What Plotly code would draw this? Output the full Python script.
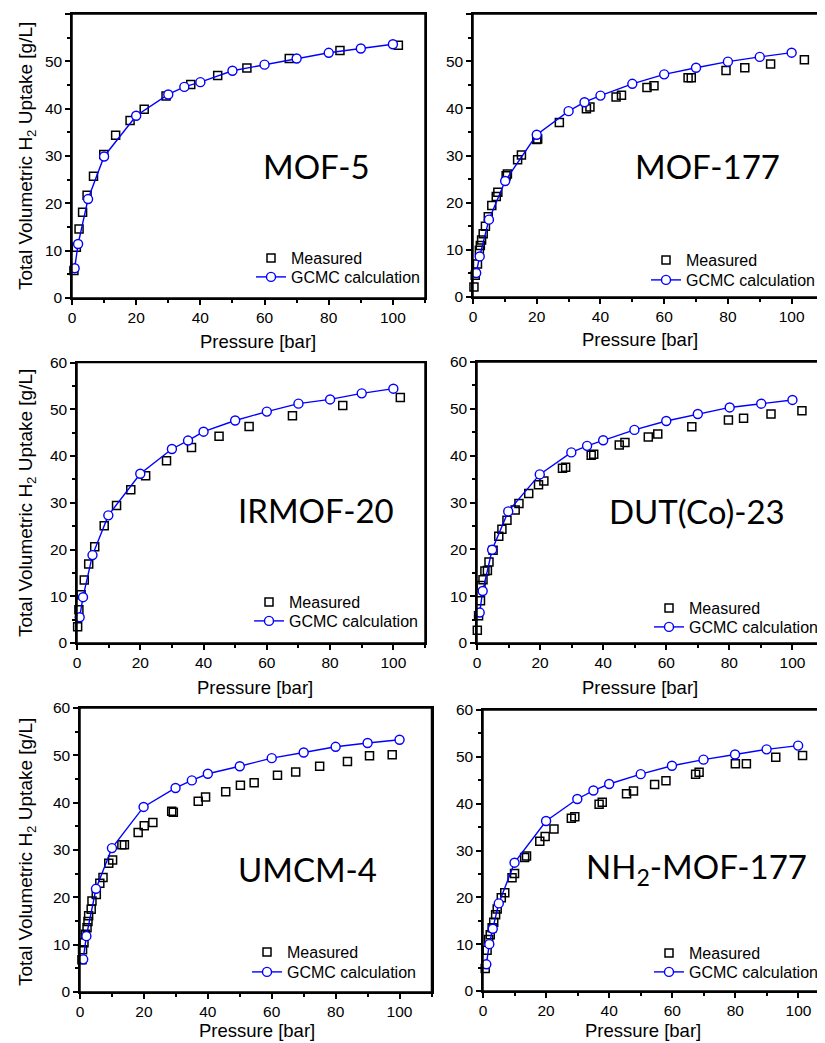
import plotly.graph_objects as go

W, H = 825, 1043
OFF = 8  # page body margin of the browser (content is shifted by this many pixels)

# ---------------- data ----------------
names = ["MOF-5", "MOF-177", "IRMOF-20", "DUT(Co)-23", "UMCM-4", "NH<sub>2</sub>-MOF-177"]

mof5_meas_p = [0.6, 1.35, 2.2, 3.3, 4.7, 6.7, 9.9, 13.6, 18.1, 22.5, 29.3, 37.0, 45.4, 54.5, 67.7, 83.5, 101.7]
mof5_meas_v = [5.8, 10.7, 14.6, 18.1, 21.7, 25.7, 30.3, 34.4, 37.5, 39.9, 42.7, 45.1, 47.0, 48.6, 50.6, 52.3, 53.4]
mof5_gcmc_p = [0.83, 1.9, 5, 10, 20, 30, 35, 40, 50, 60, 70, 80, 90, 100]
mof5_gcmc_v = [6.3, 11.4, 20.9, 29.9, 38.5, 43.0, 44.6, 45.6, 48.0, 49.3, 50.6, 51.8, 52.7, 53.6]

mof177_meas_p = [0.3, 0.7, 1.4, 2.0, 2.3, 2.7, 3.2, 3.9, 4.8, 5.9, 7.3, 7.8, 10.4, 10.8, 14.0, 15.2,
                 20.0, 20.3, 27.1, 35.6, 36.7, 44.9, 46.6, 54.6, 56.8, 67.5, 68.5, 79.4, 85.3, 93.4, 104.0]
mof177_meas_v = [2.1, 4.6, 7.0, 9.9, 10.9, 12.1, 13.4, 15.0, 17.0, 19.4, 21.3, 22.2, 25.7, 26.1, 29.1, 30.1,
                 33.4, 33.5, 37.0, 39.9, 40.3, 42.4, 42.8, 44.4, 44.8, 46.5, 46.5, 48.0, 48.6, 49.4, 50.3]
mof177_gcmc_p = [1.0, 2.1, 5.0, 10.1, 20, 30, 35, 40, 50, 60, 70, 80, 90, 100]
mof177_gcmc_v = [5.1, 8.6, 16.4, 24.6, 34.4, 39.4, 41.3, 42.7, 45.2, 47.2, 48.6, 49.9, 50.9, 51.8]

irmof20_meas_p = [0.2, 0.6, 1.3, 2.3, 3.7, 5.6, 8.6, 12.5, 17.0, 21.7, 28.3, 36.2, 44.9, 54.4, 68.1, 84.0, 102.2]
irmof20_meas_v = [3.5, 7.1, 10.3, 13.5, 16.9, 20.6, 25.1, 29.4, 32.8, 35.8, 39.0, 41.8, 44.2, 46.3, 48.6, 50.8, 52.5]
irmof20_gcmc_p = [0.84, 1.9, 4.9, 9.9, 20, 30, 35.1, 40, 50, 60, 70, 80, 90, 100]
irmof20_gcmc_v = [5.5, 9.8, 18.8, 27.3, 36.2, 41.5, 43.3, 45.2, 47.6, 49.5, 51.2, 52.1, 53.4, 54.4]

dut_meas_p = [0.1, 0.5, 1.1, 1.27, 1.9, 2.5, 3.3, 3.8, 5.1, 6.9, 7.9, 9.5, 12.1, 13.3, 16.4, 19.5, 21.2,
              27.1, 28.1, 36.2, 37.0, 45.1, 46.9, 54.3, 57.3, 68.1, 79.7, 84.5, 93.2, 103.0]
dut_meas_v = [2.7, 5.8, 9.0, 12.3, 13.5, 15.4, 15.5, 17.3, 19.8, 22.8, 24.3, 26.2, 28.4, 29.8, 31.9, 33.8, 34.6,
              37.3, 37.5, 40.1, 40.3, 42.3, 42.8, 44.0, 44.6, 46.2, 47.6, 48.0, 48.9, 49.6]
dut_gcmc_p = [0.85, 1.8, 4.8, 9.9, 19.9, 29.9, 34.9, 40, 49.9, 60, 70, 80.1, 90.1, 100]
dut_gcmc_v = [6.5, 11.1, 19.9, 28.1, 36.0, 40.7, 42.1, 43.3, 45.5, 47.4, 48.9, 50.3, 51.1, 51.9]

umcm_meas_p = [0.6, 0.8, 1.25, 1.7, 2.2, 2.5, 2.7, 3.5, 3.75, 5.1, 6.2, 7.2, 9.0, 10.2, 13.1, 13.9, 18.2, 20.1,
               22.8, 28.7, 29.2, 37.0, 39.3, 45.6, 50.2, 54.5, 61.8, 67.5, 75.0, 83.7, 90.6, 97.7]
umcm_meas_v = [6.8, 8.9, 10.4, 12.2, 13.6, 14.9, 16.1, 17.5, 19.2, 20.6, 23.0, 24.2, 27.2, 27.9, 31.1, 31.1, 33.7, 35.1,
               35.8, 38.2, 38.0, 40.3, 41.2, 42.3, 43.7, 44.2, 45.8, 46.5, 47.7, 48.7, 49.9, 50.1]
umcm_gcmc_p = [1.0, 2.0, 5.0, 10, 19.9, 29.9, 35, 40, 50, 60, 70, 80, 90, 100]
umcm_gcmc_v = [6.9, 11.8, 21.8, 30.4, 39.1, 43.1, 44.7, 46.1, 47.7, 49.4, 50.6, 51.8, 52.6, 53.3]

nh2_meas_p = [0.7, 1.3, 1.8, 2.3, 2.9, 3.4, 4.0, 4.5, 5.8, 6.9, 9.2, 10.0, 13.2, 13.8, 18.0, 19.7, 22.5,
              28.0, 29.1, 36.8, 37.8, 45.5, 47.7, 54.4, 58.0, 67.4, 68.5, 80.0, 83.5, 92.8, 101.3]
nh2_meas_v = [4.8, 8.7, 11.0, 12.0, 13.5, 14.7, 16.3, 17.5, 19.9, 21.0, 24.2, 25.1, 28.5, 28.8, 32.0, 33.0, 34.6,
              36.9, 37.2, 39.9, 40.3, 42.1, 42.7, 44.1, 44.9, 46.3, 46.7, 48.5, 48.5, 49.9, 50.3]
nh2_gcmc_p = [1.06, 2.0, 3.1, 5.0, 10, 20, 29.9, 35, 40, 50, 59.9, 69.9, 79.9, 89.9, 99.9]
nh2_gcmc_v = [5.7, 10.0, 13.3, 18.7, 27.4, 36.3, 41.0, 42.8, 44.2, 46.3, 48.1, 49.4, 50.5, 51.6, 52.4]

measured = [(mof5_meas_p, mof5_meas_v), (mof177_meas_p, mof177_meas_v), (irmof20_meas_p, irmof20_meas_v),
            (dut_meas_p, dut_meas_v), (umcm_meas_p, umcm_meas_v), (nh2_meas_p, nh2_meas_v)]
gcmc = [(mof5_gcmc_p, mof5_gcmc_v), (mof177_gcmc_p, mof177_gcmc_v), (irmof20_gcmc_p, irmof20_gcmc_v),
        (dut_gcmc_p, dut_gcmc_v), (umcm_gcmc_p, umcm_gcmc_v), (nh2_gcmc_p, nh2_gcmc_v)]

x_title = "Pressure [bar]"
y_title = "Total Volumetric H<sub>2</sub> Uptake [g/L]"
leg_meas = "Measured"
leg_gcmc = "GCMC calculation"

# ---------------- layout (screen pixels) ----------------
# left, right, top, bottom of each plot area
boxes = [(72, 425, 14, 298), (473, 823.5, 14, 297),
         (77, 425, 362.5, 643), (477, 824, 362, 643),
         (80, 431.5, 708, 992), (483, 830, 710, 991)]
xmax = [110, 110, 110, 110, 110, 110]
label_pos = [(316, 166), (707, 166), (316, 510), (697, 511), (307, 869), (696, 868)]
# (text start x, row1 centre y, row2 centre y)
leg_pos = [(291, 258, 277), (686, 260, 280), (289, 602, 621), (689, 608, 627), (287, 952, 972), (689, 953, 972)]
xt_pos = [(258, 342), (640, 339), (255, 687), (640, 687), (257, 1030), (643, 1030)]

FONT = "Arial"
AX_FONT = dict(family=FONT, size=15.5, color="black")
LINE = "black"
LW = 1.5

fig = go.Figure()
annotations = []
shapes = []

def px(x):
    return (x - OFF) / W

def py(y):
    return 1 - (y - OFF) / H

for i in range(6):
    n = i + 1
    sx = "" if n == 1 else str(n)
    l, r, t, b = boxes[i]
    leg_a = "legend" if i == 0 else f"legend{2 * i + 1}"
    leg_b = f"legend{2 * i + 2}"
    mp, mv = measured[i]
    gp, gv = gcmc[i]
    fig.add_trace(go.Scatter(
        x=mp, y=mv, mode="markers", name=leg_meas, legend=leg_a,
        xaxis=f"x{sx}", yaxis=f"y{sx}", cliponaxis=False,
        marker=dict(symbol="square", size=8, color="rgba(255,255,255,0)",
                    line=dict(color="black", width=1.5))))
    fig.add_trace(go.Scatter(
        x=gp, y=gv, mode="lines+markers", name=leg_gcmc, legend=leg_b,
        xaxis=f"x{sx}", yaxis=f"y{sx}", cliponaxis=False,
        line=dict(color="#0000ff", width=1.4),
        marker=dict(symbol="circle", size=9, color="white",
                    line=dict(color="#0000ff", width=1.4))))

    dom_x = [px(l), min(px(r), 1.0)]
    dom_y = [py(b), py(t)]
    fig.update_layout({
        f"xaxis{sx}": dict(range=[0, xmax[i]], domain=dom_x, anchor=f"y{sx}", showgrid=False, zeroline=False,
                           showline=True, mirror=True, linecolor=LINE, linewidth=LW,
                           ticks="outside", ticklen=5, tickcolor=LINE, tickwidth=LW,
                           dtick=20, tick0=0, tickfont=AX_FONT, fixedrange=True,
                           minor=dict(dtick=10, ticks="outside", ticklen=3, tickcolor=LINE, tickwidth=LW)),
        f"yaxis{sx}": dict(range=[0, 60], domain=dom_y, anchor=f"x{sx}", showgrid=False, zeroline=False,
                           showline=True, mirror=True, linecolor=LINE, linewidth=LW,
                           ticks="outside", ticklen=5, tickcolor=LINE, tickwidth=LW,
                           dtick=10, tick0=0, tickfont=AX_FONT, fixedrange=True,
                           minor=dict(dtick=5, ticks="outside", ticklen=3, tickcolor=LINE, tickwidth=LW)),
    })
    # plot-area frame in paper units (not clipped)
    shapes.append(dict(type="rect", xref="paper", yref="paper",
                       x0=dom_x[0], x1=dom_x[1], y0=dom_y[0], y1=dom_y[1],
                       line=dict(color=LINE, width=LW), fillcolor="rgba(0,0,0,0)", layer="above"))

    lx, ly1, ly2 = leg_pos[i]
    for leg, ly in ((leg_a, ly1), (leg_b, ly2)):
        fig.update_layout({leg: dict(x=px(lx - 40), y=py(ly), xanchor="left", yanchor="middle",
                                     bgcolor="rgba(0,0,0,0)", borderwidth=0,
                                     font=dict(family=FONT, size=16, color="black"), itemwidth=30)})

    cx, cy = label_pos[i]
    annotations.append(dict(text=names[i], x=px(cx), y=py(cy), xref="paper", yref="paper",
                            showarrow=False, xanchor="center", yanchor="middle",
                            font=dict(family="Lato, Noto Sans", size=33, color="black")))
    tx, ty = xt_pos[i]
    annotations.append(dict(text=x_title, x=px(tx), y=py(ty), xref="paper", yref="paper",
                            showarrow=False, xanchor="center", yanchor="middle",
                            font=dict(family=FONT, size=18.5, color="black")))

for yc in [156, 503, 852]:
    annotations.append(dict(text=y_title, x=px(27), y=py(yc), xref="paper", yref="paper",
                            showarrow=False, xanchor="center", yanchor="middle", textangle=-90,
                            font=dict(family=FONT, size=19, color="black")))

fig.update_layout(width=W, height=H, margin=dict(l=0, r=0, t=0, b=0, autoexpand=False),
                  paper_bgcolor="white", plot_bgcolor="white",
                  showlegend=True, annotations=annotations, shapes=shapes)

fig.write_html("out.html")
